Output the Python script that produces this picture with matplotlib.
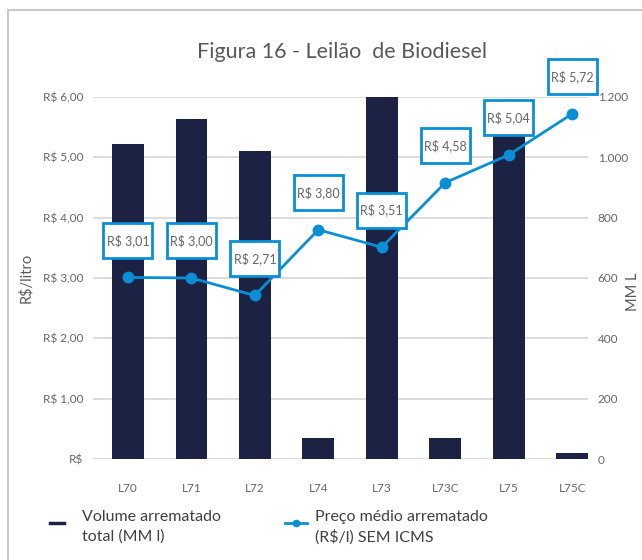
import matplotlib
matplotlib.use("Agg")
import matplotlib.pyplot as plt
import matplotlib.transforms as mtransforms
from matplotlib.lines import Line2D
from matplotlib.patches import Rectangle

leiloes = ["L70", "L71", "L72", "L74", "L73", "L73C", "L75", "L75C"]
volume_mml = [1045, 1128, 1022, 70, 1200, 70, 1072, 20]
preco = [3.01, 3.00, 2.71, 3.80, 3.51, 4.58, 5.04, 5.72]
left_ticks = [0, 1, 2, 3, 4, 5, 6]
left_ticklabels = ["R$", "R$ 1,00", "R$ 2,00", "R$ 3,00", "R$ 4,00", "R$ 5,00", "R$ 6,00"]
right_ticks = [0, 200, 400, 600, 800, 1000, 1200]
right_ticklabels = ["0", "200", "400", "600", "800", "1.000", "1.200"]

NAVY = "#1c2244"
BLUE = "#0a8fd4"
GRAY = "#595959"
W, H = 642, 560

plt.rcParams["font.family"] = ["Lato", "DejaVu Sans"]

fig = plt.figure(figsize=(W / 100, H / 100), dpi=100)
ax = fig.add_axes([93 / W, 1 - 459 / H, (588 - 93) / W, (459 - 97) / H])
ax2 = ax.twinx()

x = list(range(len(leiloes)))

# bars on the right axis (MM L), gridlines under them
ax2.bar(x, volume_mml, width=0.5, color=NAVY, zorder=2)
ax2.set_ylim(0, 1200)
ax2.set_yticks(right_ticks)
ax2.set_yticklabels(right_ticklabels)
ax2.grid(axis="y", color="#d9d9d9", lw=1.3)
ax2.set_axisbelow(True)

# price line on the left axis, drawn above the bars
ax.set_zorder(ax2.get_zorder() + 1)
ax.patch.set_visible(False)
ax.plot(x, preco, color=BLUE, lw=2, marker="o", ms=7.5, zorder=3)
ax.set_ylim(0, 6)
ax.set_xlim(-0.55, 7.25)
ax.set_yticks(left_ticks)
ax.set_yticklabels(left_ticklabels)
ax.set_xticks(x)
ax.set_xticklabels(leiloes)
ax.set_ylabel("R$/litro", color=GRAY, fontsize=10.5, labelpad=7)

for a in (ax, ax2):
    for s in a.spines.values():
        s.set_visible(False)
    a.tick_params(length=0, labelsize=8.5, colors="#666666")
ax.tick_params(axis="x", pad=17)
ax.tick_params(axis="y", pad=7)
ax2.tick_params(axis="y", pad=7)

# right axis title, placed by hand so it stays inside the picture
fig.text(633 / W, 1 - 292 / H, "MM L", rotation=90, ha="center", va="center",
         fontsize=10.5, color=GRAY)

# boxed value labels above each point
bw, bh, dy = 49 / 100, 35 / 100, 37 / 100
for xi, p in zip(x, preco):
    tr = fig.dpi_scale_trans + mtransforms.ScaledTranslation(xi, p, ax.transData)
    ax.add_patch(Rectangle((-bw / 2, dy - bh / 2), bw, bh, transform=tr,
                           facecolor="white", edgecolor=BLUE, lw=2, zorder=4,
                           clip_on=False))
    ax.text(0, dy, f"R$ {p:.2f}".replace(".", ","), transform=tr,
            ha="center", va="center", fontsize=9, color="#666666", zorder=5,
            clip_on=False)

fig.text(342 / W, 1 - 52 / H, "Figura 16 - Leilão  de Biodiesel",
         ha="center", va="center", fontsize=15.5, color=GRAY)

# legend, drawn by hand to keep the handles on the first text line
ly = 1 - 523 / H
fig.add_artist(Line2D([50 / W, 64 / W], [ly, ly], color=NAVY, lw=2.5))
fig.add_artist(Line2D([285 / W, 307 / W], [ly, ly], color=BLUE, lw=2))
fig.add_artist(Line2D([296 / W], [ly], color=BLUE, marker="o", ms=4.5, lw=0))
fig.text(82 / W, 1 - 510 / H, "Volume arrematado\ntotal (MM l)", va="top",
         fontsize=11.5, color="#404040", linespacing=1.45)
fig.text(315 / W, 1 - 510 / H, "Preço médio arrematado\n(R$/l) SEM ICMS", va="top",
         fontsize=11.5, color="#404040", linespacing=1.45)

# light frame around the chart
fig.add_artist(Rectangle((8 / W, -0.1), 1.2, 1.1 - 10 / H, transform=fig.transFigure,
                         facecolor="none", edgecolor="#c8c8c8", lw=1.5))

fig.savefig("out.png", dpi=100)
